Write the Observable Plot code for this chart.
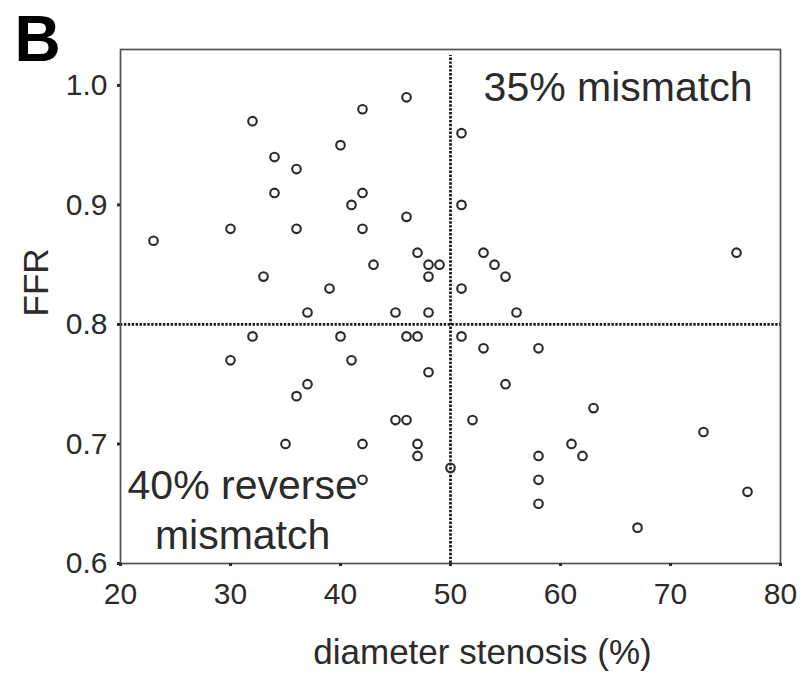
<!DOCTYPE html>
<html>
<head>
<meta charset="utf-8">
<script src="https://cdn.jsdelivr.net/npm/d3@7"></script>
<script src="https://cdn.jsdelivr.net/npm/@observablehq/plot@0.6"></script>
<style>
  html, body { margin: 0; padding: 0; background: #fff; }
  #chart svg { display: block; }
</style>
</head>
<body>
<div id="chart"></div>
<script>
// Data
const diameterStenosis = [23, 30, 30, 32, 32, 33, 34, 34, 35, 36, 36, 36, 37, 37, 39, 40, 40, 41, 41, 42, 42, 42, 42, 42, 43, 45, 45, 46, 46, 46, 46, 47, 47, 47, 47, 48, 48, 48, 48, 49, 50, 51, 51, 51, 51, 52, 53, 53, 54, 55, 55, 56, 58, 58, 58, 58, 61, 62, 63, 67, 73, 76, 77];
const ffr = [0.87, 0.88, 0.77, 0.97, 0.79, 0.84, 0.94, 0.91, 0.70, 0.93, 0.88, 0.74, 0.81, 0.75, 0.83, 0.95, 0.79, 0.90, 0.77, 0.98, 0.91, 0.88, 0.70, 0.67, 0.85, 0.81, 0.72, 0.99, 0.89, 0.79, 0.72, 0.86, 0.79, 0.70, 0.69, 0.85, 0.84, 0.81, 0.76, 0.85, 0.68, 0.96, 0.90, 0.83, 0.79, 0.72, 0.86, 0.78, 0.85, 0.84, 0.75, 0.81, 0.78, 0.69, 0.67, 0.65, 0.70, 0.69, 0.73, 0.63, 0.71, 0.86, 0.66];
const xTicks = [20, 30, 40, 50, 60, 70, 80];
const yTicks = [0.6, 0.7, 0.8, 0.9, 1.0];
const stenosisCutoff = [50];
const ffrCutoff = [0.8];
const panelLetter = ["B"];
const xTitle = ["diameter stenosis (%)"];
const yTitle = ["FFR"];
const mismatchLabel = ["35% mismatch"];
const reverseLabel = ["40% reverse\nmismatch"];

const points = diameterStenosis.map((d, i) => ({x: d, y: ffr[i]}));

const font = "'Liberation Sans', Arial, Helvetica, sans-serif";
const ink = "#2b2b2b";

const chart = Plot.plot({
  width: 809,
  height: 674,
  marginLeft: 120,
  marginRight: 29,
  marginTop: 49,
  marginBottom: 111,
  style: {fontFamily: font, background: "#fff", color: ink},
  x: {domain: [20, 80]},
  y: {domain: [0.6, 1.03]},
  marks: [
    Plot.ruleX(stenosisCutoff, {stroke: "#1a1a1a", strokeWidth: 2.8, strokeDasharray: "2.4,1.5", y1: 0.6, y2: 1.025}),
    Plot.ruleY(ffrCutoff, {stroke: "#1a1a1a", strokeWidth: 2.8, strokeDasharray: "2.4,1.5"}),
    Plot.frame({stroke: "#505050", strokeWidth: 1.7}),
    Plot.axisX({ticks: xTicks, tickSize: 3, tickPadding: 16, strokeWidth: 3, fontSize: 30, label: null, tickFormat: d3.format("d")}),
    Plot.axisY({ticks: yTicks, tickSize: 3, tickPadding: 10, strokeWidth: 3, fontSize: 30, label: null, tickFormat: d3.format(".1f")}),
    Plot.dot(points, {x: "x", y: "y", r: 4.3, stroke: "#2a2a2a", strokeWidth: 2.1, fill: "none"}),
    Plot.text(mismatchLabel, {x: 77.45, y: 1.0, textAnchor: "end", dy: 3, fontSize: 41, fill: ink}),
    Plot.text(reverseLabel, {x: 31.1, y: 0.6125, textAnchor: "middle", lineAnchor: "bottom", lineHeight: 1.22, fontSize: 41, fill: ink}),
    Plot.text(xTitle, {frameAnchor: "bottom", dx: 32, dy: 100, lineAnchor: "bottom", fontSize: 35, fill: ink}),
    Plot.text(yTitle, {frameAnchor: "left", rotate: -90, dx: -73, dy: 10, lineAnchor: "bottom", fontSize: 35, fill: ink}),
    Plot.text(panelLetter, {frameAnchor: "top-left", dx: -106, dy: 11, textAnchor: "start", lineAnchor: "bottom", fontSize: 64, fontWeight: "bold", fill: "#000"})
  ]
});
document.getElementById("chart").appendChild(chart);
</script>
</body>
</html>
